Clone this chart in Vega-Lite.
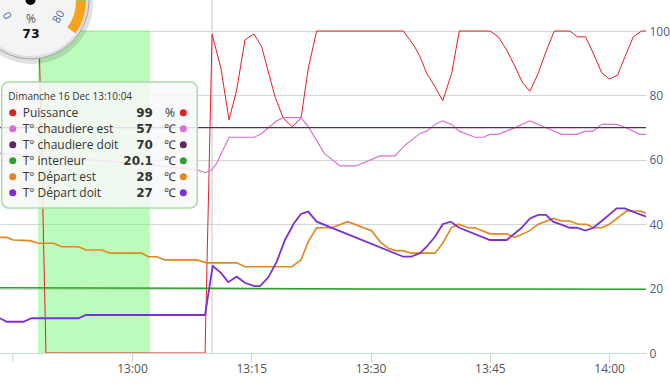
{
"$schema":"https://vega.github.io/schema/vega-lite/v6.json",
"width":646,"height":353,
"autosize":{"type":"none"},
"padding":{"left":0,"top":0,"right":24,"bottom":33},
"background":"white",
"config":{"view":{"stroke":null},"font":"Open Sans"},
"datasets":{
"series":[
{"t":"2018-12-16T12:43:24","s":"Puissance","v":100},{"t":"2018-12-16T12:48:18","s":"Puissance","v":100},{"t":"2018-12-16T12:49:11","s":"Puissance","v":0},{"t":"2018-12-16T13:09:11","s":"Puissance","v":0},{"t":"2018-12-16T13:10:04","s":"Puissance","v":99},{"t":"2018-12-16T13:11:11","s":"Puissance","v":88.4},{"t":"2018-12-16T13:12:12","s":"Puissance","v":72.4},{"t":"2018-12-16T13:13:10","s":"Puissance","v":81.7},{"t":"2018-12-16T13:14:12","s":"Puissance","v":97.2},{"t":"2018-12-16T13:15:20","s":"Puissance","v":99.1},{"t":"2018-12-16T13:16:18","s":"Puissance","v":95.1},{"t":"2018-12-16T13:17:59","s":"Puissance","v":79.6},{"t":"2018-12-16T13:19:01","s":"Puissance","v":72.9},{"t":"2018-12-16T13:20:09","s":"Puissance","v":70.3},{"t":"2018-12-16T13:21:15","s":"Puissance","v":72.9},{"t":"2018-12-16T13:22:10","s":"Puissance","v":88.4},{"t":"2018-12-16T13:23:13","s":"Puissance","v":100},{"t":"2018-12-16T13:34:07","s":"Puissance","v":100},{"t":"2018-12-16T13:35:35","s":"Puissance","v":95},{"t":"2018-12-16T13:36:13","s":"Puissance","v":92},{"t":"2018-12-16T13:37:03","s":"Puissance","v":86.9},{"t":"2018-12-16T13:38:06","s":"Puissance","v":82.7},{"t":"2018-12-16T13:39:04","s":"Puissance","v":78.3},{"t":"2018-12-16T13:40:12","s":"Puissance","v":86.9},{"t":"2018-12-16T13:41:09","s":"Puissance","v":100},{"t":"2018-12-16T13:45:01","s":"Puissance","v":100},{"t":"2018-12-16T13:46:04","s":"Puissance","v":98.2},{"t":"2018-12-16T13:47:07","s":"Puissance","v":94.1},{"t":"2018-12-16T13:48:10","s":"Puissance","v":88.9},{"t":"2018-12-16T13:49:07","s":"Puissance","v":83.9},{"t":"2018-12-16T13:50:02","s":"Puissance","v":81.3},{"t":"2018-12-16T13:51:05","s":"Puissance","v":86.9},{"t":"2018-12-16T13:52:08","s":"Puissance","v":94.1},{"t":"2018-12-16T13:53:06","s":"Puissance","v":100},{"t":"2018-12-16T13:55:04","s":"Puissance","v":100},{"t":"2018-12-16T13:55:59","s":"Puissance","v":98.2},{"t":"2018-12-16T13:57:02","s":"Puissance","v":98.2},{"t":"2018-12-16T13:58:00","s":"Puissance","v":93.1},{"t":"2018-12-16T13:59:04","s":"Puissance","v":87},{"t":"2018-12-16T14:00:01","s":"Puissance","v":85.1},{"t":"2018-12-16T14:01:04","s":"Puissance","v":86.3},{"t":"2018-12-16T14:01:59","s":"Puissance","v":92},{"t":"2018-12-16T14:03:02","s":"Puissance","v":98.2},{"t":"2018-12-16T14:04:05","s":"Puissance","v":100},{"t":"2018-12-16T14:04:43","s":"Puissance","v":100},
{"t":"2018-12-16T12:43:24","s":"T° chaudiere est","v":62},{"t":"2018-12-16T12:52:00","s":"T° chaudiere est","v":60.5},{"t":"2018-12-16T13:02:00","s":"T° chaudiere est","v":58.5},{"t":"2018-12-16T13:08:20","s":"T° chaudiere est","v":56.8},{"t":"2018-12-16T13:09:11","s":"T° chaudiere est","v":56},{"t":"2018-12-16T13:10:01","s":"T° chaudiere est","v":56.8},{"t":"2018-12-16T13:10:39","s":"T° chaudiere est","v":58.9},{"t":"2018-12-16T13:12:12","s":"T° chaudiere est","v":67},{"t":"2018-12-16T13:15:23","s":"T° chaudiere est","v":67},{"t":"2018-12-16T13:16:18","s":"T° chaudiere est","v":68.2},{"t":"2018-12-16T13:18:12","s":"T° chaudiere est","v":72.1},{"t":"2018-12-16T13:19:01","s":"T° chaudiere est","v":73.1},{"t":"2018-12-16T13:21:15","s":"T° chaudiere est","v":73.1},{"t":"2018-12-16T13:22:10","s":"T° chaudiere est","v":70.3},{"t":"2018-12-16T13:24:11","s":"T° chaudiere est","v":62},{"t":"2018-12-16T13:26:09","s":"T° chaudiere est","v":58.1},{"t":"2018-12-16T13:28:10","s":"T° chaudiere est","v":58.1},{"t":"2018-12-16T13:31:11","s":"T° chaudiere est","v":61.2},{"t":"2018-12-16T13:33:04","s":"T° chaudiere est","v":61.2},{"t":"2018-12-16T13:34:14","s":"T° chaudiere est","v":64.3},{"t":"2018-12-16T13:36:13","s":"T° chaudiere est","v":68.2},{"t":"2018-12-16T13:37:03","s":"T° chaudiere est","v":68.9},{"t":"2018-12-16T13:38:06","s":"T° chaudiere est","v":71},{"t":"2018-12-16T13:39:04","s":"T° chaudiere est","v":72.1},{"t":"2018-12-16T13:40:12","s":"T° chaudiere est","v":71},{"t":"2018-12-16T13:41:09","s":"T° chaudiere est","v":68.9},{"t":"2018-12-16T13:43:08","s":"T° chaudiere est","v":67},{"t":"2018-12-16T13:44:10","s":"T° chaudiere est","v":67},{"t":"2018-12-16T13:45:01","s":"T° chaudiere est","v":67.9},{"t":"2018-12-16T13:46:04","s":"T° chaudiere est","v":67.9},{"t":"2018-12-16T13:48:10","s":"T° chaudiere est","v":70},{"t":"2018-12-16T13:50:02","s":"T° chaudiere est","v":72.1},{"t":"2018-12-16T13:51:56","s":"T° chaudiere est","v":70.1},{"t":"2018-12-16T13:54:02","s":"T° chaudiere est","v":67.9},{"t":"2018-12-16T13:55:55","s":"T° chaudiere est","v":67.9},{"t":"2018-12-16T13:57:03","s":"T° chaudiere est","v":68.9},{"t":"2018-12-16T13:58:00","s":"T° chaudiere est","v":68.9},{"t":"2018-12-16T13:59:04","s":"T° chaudiere est","v":71},{"t":"2018-12-16T14:00:57","s":"T° chaudiere est","v":71},{"t":"2018-12-16T14:01:59","s":"T° chaudiere est","v":70.1},{"t":"2018-12-16T14:03:53","s":"T° chaudiere est","v":67.9},{"t":"2018-12-16T14:04:43","s":"T° chaudiere est","v":67.9},
{"t":"2018-12-16T12:43:24","s":"T° chaudiere doit","v":70},{"t":"2018-12-16T14:04:43","s":"T° chaudiere doit","v":70},
{"t":"2018-12-16T12:43:24","s":"T° interieur","v":20.3},{"t":"2018-12-16T12:55:00","s":"T° interieur","v":20.2},{"t":"2018-12-16T13:10:04","s":"T° interieur","v":20.1},{"t":"2018-12-16T13:30:00","s":"T° interieur","v":19.9},{"t":"2018-12-16T14:04:43","s":"T° interieur","v":19.8},
{"t":"2018-12-16T12:43:24","s":"T° Départ est","v":35.9},{"t":"2018-12-16T12:44:15","s":"T° Départ est","v":35.9},{"t":"2018-12-16T12:45:04","s":"T° Départ est","v":35.1},{"t":"2018-12-16T12:47:10","s":"T° Départ est","v":34.9},{"t":"2018-12-16T12:48:13","s":"T° Départ est","v":34.1},{"t":"2018-12-16T12:50:06","s":"T° Départ est","v":34.1},{"t":"2018-12-16T12:51:10","s":"T° Départ est","v":33},{"t":"2018-12-16T12:53:15","s":"T° Départ est","v":33},{"t":"2018-12-16T12:54:13","s":"T° Départ est","v":32},{"t":"2018-12-16T12:56:11","s":"T° Départ est","v":32},{"t":"2018-12-16T12:57:14","s":"T° Départ est","v":31},{"t":"2018-12-16T13:01:13","s":"T° Départ est","v":31},{"t":"2018-12-16T13:02:03","s":"T° Départ est","v":29.9},{"t":"2018-12-16T13:03:06","s":"T° Départ est","v":29.9},{"t":"2018-12-16T13:04:09","s":"T° Départ est","v":28.9},{"t":"2018-12-16T13:08:08","s":"T° Départ est","v":28.9},{"t":"2018-12-16T13:09:23","s":"T° Départ est","v":28},{"t":"2018-12-16T13:13:10","s":"T° Départ est","v":28},{"t":"2018-12-16T13:14:12","s":"T° Départ est","v":26.8},{"t":"2018-12-16T13:20:05","s":"T° Départ est","v":26.8},{"t":"2018-12-16T13:21:15","s":"T° Départ est","v":28.9},{"t":"2018-12-16T13:22:10","s":"T° Départ est","v":34.6},{"t":"2018-12-16T13:23:13","s":"T° Départ est","v":38.9},{"t":"2018-12-16T13:25:07","s":"T° Départ est","v":38.9},{"t":"2018-12-16T13:27:07","s":"T° Départ est","v":40.8},{"t":"2018-12-16T13:30:08","s":"T° Départ est","v":38},{"t":"2018-12-16T13:31:11","s":"T° Départ est","v":34.6},{"t":"2018-12-16T13:32:14","s":"T° Départ est","v":32.5},{"t":"2018-12-16T13:33:09","s":"T° Départ est","v":31.8},{"t":"2018-12-16T13:34:07","s":"T° Départ est","v":31.8},{"t":"2018-12-16T13:35:05","s":"T° Départ est","v":31},{"t":"2018-12-16T13:38:06","s":"T° Départ est","v":31},{"t":"2018-12-16T13:39:04","s":"T° Départ est","v":34.1},{"t":"2018-12-16T13:40:12","s":"T° Départ est","v":39},{"t":"2018-12-16T13:41:02","s":"T° Départ est","v":40},{"t":"2018-12-16T13:42:17","s":"T° Départ est","v":38.9},{"t":"2018-12-16T13:43:08","s":"T° Départ est","v":38.9},{"t":"2018-12-16T13:45:01","s":"T° Départ est","v":37},{"t":"2018-12-16T13:47:07","s":"T° Départ est","v":37},{"t":"2018-12-16T13:48:10","s":"T° Départ est","v":35.9},{"t":"2018-12-16T13:50:02","s":"T° Départ est","v":38},{"t":"2018-12-16T13:51:05","s":"T° Départ est","v":40},{"t":"2018-12-16T13:52:58","s":"T° Départ est","v":41.8},{"t":"2018-12-16T13:54:02","s":"T° Départ est","v":41},{"t":"2018-12-16T13:55:04","s":"T° Départ est","v":41},{"t":"2018-12-16T13:56:07","s":"T° Départ est","v":40},{"t":"2018-12-16T13:57:10","s":"T° Départ est","v":40},{"t":"2018-12-16T13:58:00","s":"T° Départ est","v":38.9},{"t":"2018-12-16T13:59:04","s":"T° Départ est","v":38.9},{"t":"2018-12-16T14:00:01","s":"T° Départ est","v":40},{"t":"2018-12-16T14:02:12","s":"T° Départ est","v":44.1},{"t":"2018-12-16T14:03:53","s":"T° Départ est","v":44.1},{"t":"2018-12-16T14:04:43","s":"T° Départ est","v":43.4},
{"t":"2018-12-16T12:43:24","s":"T° Départ doit","v":10.8},{"t":"2018-12-16T12:44:15","s":"T° Départ doit","v":9.7},{"t":"2018-12-16T12:46:20","s":"T° Départ doit","v":9.7},{"t":"2018-12-16T12:47:23","s":"T° Départ doit","v":10.8},{"t":"2018-12-16T12:53:15","s":"T° Départ doit","v":10.8},{"t":"2018-12-16T12:54:13","s":"T° Départ doit","v":11.8},{"t":"2018-12-16T13:09:11","s":"T° Départ doit","v":11.8},{"t":"2018-12-16T13:10:09","s":"T° Départ doit","v":27},{"t":"2018-12-16T13:11:11","s":"T° Départ doit","v":24.9},{"t":"2018-12-16T13:12:06","s":"T° Départ doit","v":22},{"t":"2018-12-16T13:13:10","s":"T° Départ doit","v":23.7},{"t":"2018-12-16T13:14:12","s":"T° Départ doit","v":21.8},{"t":"2018-12-16T13:15:23","s":"T° Départ doit","v":20.8},{"t":"2018-12-16T13:16:06","s":"T° Départ doit","v":20.8},{"t":"2018-12-16T13:17:08","s":"T° Départ doit","v":23.5},{"t":"2018-12-16T13:18:12","s":"T° Départ doit","v":28.4},{"t":"2018-12-16T13:19:14","s":"T° Départ doit","v":35.1},{"t":"2018-12-16T13:20:22","s":"T° Départ doit","v":40.3},{"t":"2018-12-16T13:21:15","s":"T° Départ doit","v":43.2},{"t":"2018-12-16T13:22:10","s":"T° Départ doit","v":43.9},{"t":"2018-12-16T13:23:13","s":"T° Départ doit","v":40.8},{"t":"2018-12-16T13:34:07","s":"T° Départ doit","v":29.9},{"t":"2018-12-16T13:35:05","s":"T° Départ doit","v":29.9},{"t":"2018-12-16T13:36:13","s":"T° Départ doit","v":31},{"t":"2018-12-16T13:37:03","s":"T° Départ doit","v":33},{"t":"2018-12-16T13:38:06","s":"T° Départ doit","v":36.1},{"t":"2018-12-16T13:39:04","s":"T° Départ doit","v":40},{"t":"2018-12-16T13:40:04","s":"T° Départ doit","v":40.8},{"t":"2018-12-16T13:41:09","s":"T° Départ doit","v":38.9},{"t":"2018-12-16T13:45:01","s":"T° Départ doit","v":35.1},{"t":"2018-12-16T13:47:07","s":"T° Départ doit","v":35.1},{"t":"2018-12-16T13:49:00","s":"T° Départ doit","v":38.9},{"t":"2018-12-16T13:50:02","s":"T° Départ doit","v":41.8},{"t":"2018-12-16T13:51:05","s":"T° Départ doit","v":42.9},{"t":"2018-12-16T13:52:03","s":"T° Départ doit","v":42.9},{"t":"2018-12-16T13:52:58","s":"T° Départ doit","v":40.8},{"t":"2018-12-16T13:55:04","s":"T° Départ doit","v":38.9},{"t":"2018-12-16T13:55:55","s":"T° Départ doit","v":38.9},{"t":"2018-12-16T13:57:03","s":"T° Départ doit","v":38},{"t":"2018-12-16T13:58:00","s":"T° Départ doit","v":38.9},{"t":"2018-12-16T13:59:04","s":"T° Départ doit","v":41},{"t":"2018-12-16T14:00:57","s":"T° Départ doit","v":44.9},{"t":"2018-12-16T14:01:59","s":"T° Départ doit","v":44.9},{"t":"2018-12-16T14:03:28","s":"T° Départ doit","v":43.4},{"t":"2018-12-16T14:04:43","s":"T° Départ doit","v":42.3}
],
"band":[{"start":"2018-12-16T12:48:11","end":"2018-12-16T13:02:16"}],
"cross":[{"t":"2018-12-16T13:10:04"}],
"firsttick":[{"t":"2018-12-16T12:45:00"}],
"gauge":[{"label":"%","value":"73"}],
"tiphead":[{"row":0,"label":"Dimanche 16 Dec 13:10:04"}],
"tip":[
{"row":1,"name":"Puissance","val":"99","unit":"%"},
{"row":2,"name":"T° chaudiere est","val":"57","unit":"℃"},
{"row":3,"name":"T° chaudiere doit","val":"70","unit":"℃"},
{"row":4,"name":"T° interieur","val":"20.1","unit":"℃"},
{"row":5,"name":"T° Départ est","val":"28","unit":"℃"},
{"row":6,"name":"T° Départ doit","val":"27","unit":"℃"}
]
},
"layer":[
 {"data":{"name":"band"},"mark":{"type":"rect","color":"#7cf77c","opacity":0.5},
  "encoding":{"x":{"field":"start","type":"temporal","axis":null},"x2":{"field":"end"},
   "y":{"datum":0,"type":"quantitative","axis":null,"scale":{"domain":[0,109.63],"nice":false,"zero":false}},"y2":{"datum":100.2}}},
 {"data":{"name":"cross"},"mark":{"type":"rule","color":"#c8c8c8","strokeWidth":1},
  "encoding":{"x":{"field":"t","type":"temporal","axis":null},
   "y":{"datum":0,"type":"quantitative","axis":null,"scale":{"domain":[0,109.63],"nice":false,"zero":false}},"y2":{"datum":109.63}}},
 {"data":{"name":"firsttick"},"mark":{"type":"rule","color":"#c6d9d0","strokeWidth":1},
  "encoding":{"x":{"field":"t","type":"temporal","axis":null},
   "y":{"datum":0,"type":"quantitative","axis":null,"scale":{"domain":[0,109.63],"nice":false,"zero":false}},"y2":{"datum":-2.8}}},
 {"data":{"name":"series"},"mark":{"type":"line","clip":true},
  "encoding":{
   "x":{"field":"t","type":"temporal",
    "scale":{"domain":[{"year":2018,"month":"dec","date":16,"hours":12,"minutes":43,"seconds":24},{"year":2018,"month":"dec","date":16,"hours":14,"minutes":4,"seconds":38}]},
    "axis":{"title":null,"orient":"bottom","format":"%H:%M",
     "values":[{"year":2018,"month":"dec","date":16,"hours":13,"minutes":0},{"year":2018,"month":"dec","date":16,"hours":13,"minutes":15},{"year":2018,"month":"dec","date":16,"hours":13,"minutes":30},{"year":2018,"month":"dec","date":16,"hours":13,"minutes":45},{"year":2018,"month":"dec","date":16,"hours":14,"minutes":0}],
     "grid":false,"domainColor":"#c6d9d0","tickColor":"#c6d9d0","tickSize":9,"labelPadding":1,
     "labelColor":"#555555","labelFontSize":12,"labelFont":"Open Sans","labelFlush":false,"labelOverlap":false}},
   "y":{"field":"v","type":"quantitative",
    "scale":{"domain":[0,109.63],"nice":false,"zero":false},
    "axis":{"title":null,"orient":"right","values":[0,20,40,60,80,100],"grid":true,"gridColor":"#d6d6d6",
     "ticks":false,"domain":false,"labelPadding":3,"labelColor":"#4a5e86","labelFontSize":12,"labelFont":"Open Sans"}},
   "color":{"field":"s","type":"nominal","legend":null,
    "scale":{"domain":["Puissance","T° chaudiere est","T° chaudiere doit","T° interieur","T° Départ est","T° Départ doit"],
     "range":["#e41e26","#da6fd3","#5e2a58","#2f9e2f","#e2861f","#7b2fd4"]}},
   "strokeWidth":{"field":"s","type":"nominal","legend":null,
    "scale":{"domain":["Puissance","T° chaudiere est","T° chaudiere doit","T° interieur","T° Départ est","T° Départ doit"],
     "range":[1,1.8,1.5,2,1.8,1.8]}}
  }},
 {"data":{"name":"gauge"},"mark":{"type":"circle","size":14884,"color":"#000000","opacity":0.12},
  "encoding":{"x":{"datum":{"year":2018,"month":"dec","date":16,"hours":12,"minutes":47,"seconds":26},"type":"temporal","axis":null},
   "y":{"datum":108.7,"type":"quantitative","axis":null,"scale":{"domain":[0,109.63],"nice":false,"zero":false}}}},
 {"data":{"name":"gauge"},"mark":{"type":"circle","size":13456,"color":"#dedede","opacity":1,"stroke":"#a5a5a5","strokeWidth":1},
  "encoding":{"x":{"datum":{"year":2018,"month":"dec","date":16,"hours":12,"minutes":47,"seconds":18},"type":"temporal","axis":null},
   "y":{"datum":109.32,"type":"quantitative","axis":null,"scale":{"domain":[0,109.63],"nice":false,"zero":false}}}},
 {"data":{"name":"gauge"},"mark":{"type":"circle","size":12100,"color":"#f4f4f4","opacity":1},
  "encoding":{"x":{"datum":{"year":2018,"month":"dec","date":16,"hours":12,"minutes":47,"seconds":18},"type":"temporal","axis":null},
   "y":{"datum":109.32,"type":"quantitative","axis":null,"scale":{"domain":[0,109.63],"nice":false,"zero":false}}}},
 {"data":{"name":"gauge"},"mark":{"type":"arc","theta":1.56,"theta2":2.2,"innerRadius":45,"outerRadius":55,"fill":"#f5a31a"},
  "encoding":{"x":{"datum":{"year":2018,"month":"dec","date":16,"hours":12,"minutes":47,"seconds":18},"type":"temporal","axis":null},
   "y":{"datum":109.32,"type":"quantitative","axis":null,"scale":{"domain":[0,109.63],"nice":false,"zero":false}}}},
 {"data":{"name":"gauge"},"mark":{"type":"arc","theta":1.2,"theta2":1.56,"innerRadius":45,"outerRadius":55,"fill":"#4cb83a"},
  "encoding":{"x":{"datum":{"year":2018,"month":"dec","date":16,"hours":12,"minutes":47,"seconds":18},"type":"temporal","axis":null},
   "y":{"datum":109.32,"type":"quantitative","axis":null,"scale":{"domain":[0,109.63],"nice":false,"zero":false}}}},
 {"data":{"name":"gauge"},"mark":{"type":"circle","size":100,"color":"#000000","opacity":1},
  "encoding":{"x":{"datum":{"year":2018,"month":"dec","date":16,"hours":12,"minutes":47,"seconds":14},"type":"temporal","axis":null},
   "y":{"datum":109.63,"type":"quantitative","axis":null,"scale":{"domain":[0,109.63],"nice":false,"zero":false}}}},
 {"data":{"name":"gauge"},"mark":{"type":"text","fontSize":12,"color":"#555555","baseline":"middle","align":"center"},
  "encoding":{"x":{"datum":{"year":2018,"month":"dec","date":16,"hours":12,"minutes":47,"seconds":18},"type":"temporal","axis":null},
   "y":{"datum":103.73,"type":"quantitative","axis":null,"scale":{"domain":[0,109.63],"nice":false,"zero":false}},"text":{"field":"label"}}},
 {"data":{"name":"gauge"},"mark":{"type":"text","fontSize":12.5,"font":"DejaVu Sans","fontWeight":"bold","color":"#111111","baseline":"middle","align":"center"},
  "encoding":{"x":{"datum":{"year":2018,"month":"dec","date":16,"hours":12,"minutes":47,"seconds":18},"type":"temporal","axis":null},
   "y":{"datum":99.07,"type":"quantitative","axis":null,"scale":{"domain":[0,109.63],"nice":false,"zero":false}},"text":{"field":"value"}}},
 {"data":{"name":"gauge"},"mark":{"type":"text","text":"80","fontSize":11,"color":"#4b6a9b","baseline":"middle","align":"center","angle":300},
  "encoding":{"x":{"datum":{"year":2018,"month":"dec","date":16,"hours":12,"minutes":50,"seconds":50},"type":"temporal","axis":null},
   "y":{"datum":104.35,"type":"quantitative","axis":null,"scale":{"domain":[0,109.63],"nice":false,"zero":false}}}},
 {"data":{"name":"gauge"},"mark":{"type":"text","text":"0","fontSize":11,"color":"#4b6a9b","baseline":"middle","align":"center","angle":60},
  "encoding":{"x":{"datum":{"year":2018,"month":"dec","date":16,"hours":12,"minutes":44,"seconds":12},"type":"temporal","axis":null},
   "y":{"datum":104.66,"type":"quantitative","axis":null,"scale":{"domain":[0,109.63],"nice":false,"zero":false}}}},
 {"data":{"name":"tiphead"},"mark":{"type":"rect","fill":"#f8f8f8","fillOpacity":0.86,"stroke":"#a6dca6","strokeWidth":1.5,"cornerRadius":7},
  "encoding":{"x":{"datum":{"year":2018,"month":"dec","date":16,"hours":12,"minutes":43,"seconds":37},"type":"temporal","axis":null},
   "x2":{"datum":{"year":2018,"month":"dec","date":16,"hours":13,"minutes":8,"seconds":13}},
   "y":{"datum":-0.92,"type":"quantitative","axis":null,"scale":{"domain":[-6.044,16.019],"reverse":true,"nice":false,"zero":false}},
   "y2":{"datum":6.96}}},
 {"data":{"name":"tiphead"},"mark":{"type":"text","fontSize":10,"color":"#333333","align":"left","baseline":"middle"},
  "encoding":{"x":{"datum":{"year":2018,"month":"dec","date":16,"hours":12,"minutes":44,"seconds":27},"type":"temporal","axis":null},
   "y":{"field":"row","type":"quantitative","axis":null,"scale":{"domain":[-6.044,16.019],"reverse":true,"nice":false,"zero":false}},"text":{"field":"label"}}},
 {"data":{"name":"tip"},"mark":{"type":"circle","size":49,"opacity":1},
  "encoding":{"x":{"datum":{"year":2018,"month":"dec","date":16,"hours":12,"minutes":45,"seconds":0},"type":"temporal","axis":null},
   "y":{"field":"row","type":"quantitative","axis":null,"scale":{"domain":[-6.044,16.019],"reverse":true,"nice":false,"zero":false}},
   "color":{"field":"name","type":"nominal","legend":null}}},
 {"data":{"name":"tip"},"mark":{"type":"text","fontSize":12,"color":"#333333","align":"left","baseline":"middle"},
  "encoding":{"x":{"datum":{"year":2018,"month":"dec","date":16,"hours":12,"minutes":46,"seconds":15},"type":"temporal","axis":null},
   "y":{"field":"row","type":"quantitative","axis":null,"scale":{"domain":[-6.044,16.019],"reverse":true,"nice":false,"zero":false}},"text":{"field":"name"}}},
 {"data":{"name":"tip"},"mark":{"type":"text","fontSize":12,"font":"DejaVu Sans","fontWeight":"bold","color":"#333333","align":"right","baseline":"middle"},
  "encoding":{"x":{"datum":{"year":2018,"month":"dec","date":16,"hours":13,"minutes":2,"seconds":38},"type":"temporal","axis":null},
   "y":{"field":"row","type":"quantitative","axis":null,"scale":{"domain":[-6.044,16.019],"reverse":true,"nice":false,"zero":false}},"text":{"field":"val"}}},
 {"data":{"name":"tip"},"mark":{"type":"text","fontSize":12,"color":"#333333","align":"center","baseline":"middle"},
  "encoding":{"x":{"datum":{"year":2018,"month":"dec","date":16,"hours":13,"minutes":4,"seconds":47},"type":"temporal","axis":null},
   "y":{"field":"row","type":"quantitative","axis":null,"scale":{"domain":[-6.044,16.019],"reverse":true,"nice":false,"zero":false}},"text":{"field":"unit"}}},
 {"data":{"name":"tip"},"mark":{"type":"circle","size":49,"opacity":1},
  "encoding":{"x":{"datum":{"year":2018,"month":"dec","date":16,"hours":13,"minutes":6,"seconds":27},"type":"temporal","axis":null},
   "y":{"field":"row","type":"quantitative","axis":null,"scale":{"domain":[-6.044,16.019],"reverse":true,"nice":false,"zero":false}},
   "color":{"field":"name","type":"nominal","legend":null}}}
],
"resolve":{"scale":{"y":"independent"},"axis":{"x":"independent","y":"independent"}}
}
